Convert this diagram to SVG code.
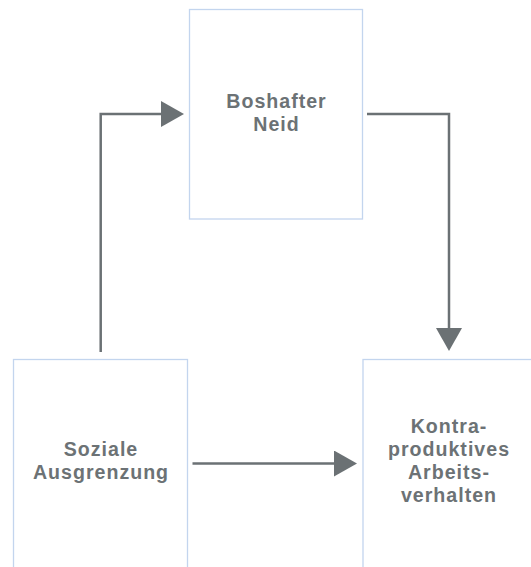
<svg xmlns="http://www.w3.org/2000/svg" width="531" height="567" viewBox="0 0 531 567">
<defs>
<style>
.box{fill:#ffffff;stroke:#c3d5ee;stroke-width:1.3}
.lbl{font-family:"Liberation Sans",Arial,sans-serif;font-weight:bold;font-size:19.6px;fill:#6c7275;text-anchor:middle;letter-spacing:1px}
.edge{fill:none;stroke:#6b7174;stroke-width:2.5}
</style>
<marker id="ah" markerUnits="userSpaceOnUse" markerWidth="23" markerHeight="26" refX="0" refY="13" orient="auto" viewBox="0 0 23 26">
<path d="M0,0 L23,13 L0,26 Z" fill="#6b7174"/>
</marker>
</defs>
<rect width="531" height="567" fill="#ffffff"/>
<g id="node-boshafter">
<rect class="box" x="189.5" y="9.5" width="173" height="209.5"/>
<text class="lbl" x="276.5" y="108">Boshafter</text>
<text class="lbl" x="276.5" y="131">Neid</text>
</g>
<g id="node-soziale">
<rect class="box" x="13.5" y="359.5" width="174" height="215"/>
<text class="lbl" x="101" y="456">Soziale</text>
<text class="lbl" x="101" y="479">Ausgrenzung</text>
</g>
<g id="node-kontra">
<rect class="box" x="363" y="359.5" width="173" height="215"/>
<text class="lbl" x="449" y="433">Kontra-</text>
<text class="lbl" x="449" y="456">produktives</text>
<text class="lbl" x="449" y="479">Arbeits-</text>
<text class="lbl" x="449" y="502">verhalten</text>
</g>
<g id="connectors">
<path class="edge" d="M100.7,352 V114 H161" marker-end="url(#ah)"/>
<path class="edge" d="M367,114 H449 V328" marker-end="url(#ah)"/>
<path class="edge" d="M192.5,463.5 H334" marker-end="url(#ah)"/>
</g>
</svg>
